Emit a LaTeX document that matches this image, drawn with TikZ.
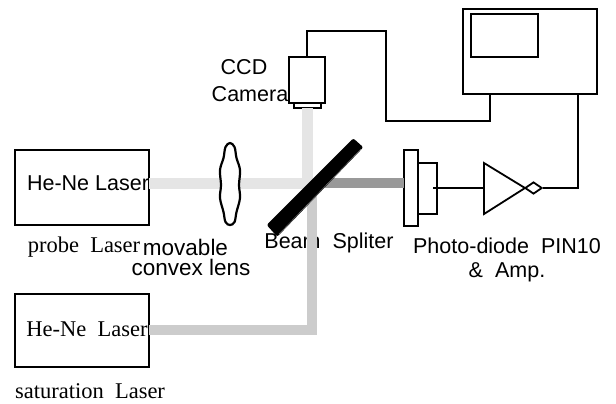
\documentclass[tikz,border=0pt]{standalone}
\usepackage{fontspec}
\setmainfont{Liberation Sans}
\newfontfamily\serifface{Liberation Serif}
\usetikzlibrary{arrows.meta, positioning, shapes, calc}

\begin{document}
\begin{tikzpicture}[
  x=0.025cm, y=-0.025cm,
  % Define styles for different elements
  box/.style={draw, line width=0.5mm, inner sep=0, outer sep=0, fill=white},
  wire/.style={line width=0.45mm},
  probebeam/.style={line width=2.6mm, color=black!10},
  satbeam/.style={line width=2.6mm, color=black!20},
  outbeam/.style={line width=2.6mm, color=black!40},
  sanslabel/.style={font=\fontsize{15.3}{17}\selectfont, inner sep=0, align=center},
  lenslabel/.style={font=\fontsize{16}{18}\selectfont, inner sep=0, align=center},
  seriflabel/.style={font=\fontsize{16}{18}\selectfont\serifface, inner sep=0, align=center}
]
\useasboundingbox (0,0) rectangle (616,403);

% Beam splitter label sits under the saturation beam
\node[sanslabel] (splitlabel) at (329,243) {Beam\ \ Spliter};

% Laser boxes
\node[box, minimum width=3.35cm, minimum height=1.875cm] (probelaser) at (82,187.5) {};
\node[box, minimum width=3.35cm, minimum height=1.825cm] (satlaser) at (82,330.5) {};

% Beams
\coordinate (probecorner) at (307.5,183.5);
\coordinate (satcorner) at (312,330);
\coordinate (satend) at (312,185);
\coordinate (outstart) at (325,183);

\node[box, minimum width=0.35cm, minimum height=1.9cm] (diodeplate) at (411,188) {};
\node[box, minimum width=0.475cm, minimum height=1.275cm, anchor=west] (diodebody) at (diodeplate.east) {};
\node[box, minimum width=0.9cm, minimum height=1.15cm] (camera) at (307,80) {};
\node[box, minimum width=0.675cm, minimum height=0.125cm, anchor=north] (camerafoot) at (camera.south) {};

\draw[probebeam] (probelaser.east |- probecorner) -- (probecorner) -- (camerafoot.south -| probecorner);
\draw[satbeam] (satlaser.east |- satcorner) -- (satcorner) -- (satend);
\draw[outbeam] (outstart) -- (diodeplate.west |- outstart);

% Lens
\draw[line width=0.55mm, fill=white] plot[smooth cycle, tension=0.6] coordinates
  {(230,143) (234.5,147) (236.5,158) (240,170) (239,185) (240,198) (236.5,212) (234.5,222) (230,225)
   (225.5,222) (223.5,212) (220,198) (221,185) (220,170) (223.5,158) (225.5,147)};

% Beam splitter
\fill[rounded corners=0.5mm] (353.3,138.3) -- (363.3,147.3) -- (277.3,236.7) -- (266.7,225) -- cycle;
\draw[line width=0.1mm, black!50] (361,149) -- (279,234);

% Monitor
\node[box, minimum width=3.35cm, minimum height=2.125cm] (monitor) at (530,51.5) {};
\node[box, minimum width=1.675cm, minimum height=1.075cm] (screen) at (504.5,35.5) {};

% Amplifier
\coordinate (ampin) at (484,188);
\draw[wire] (484,163) -- (484,214) -- (525,188) -- cycle;
\node[draw, line width=0.45mm, diamond, aspect=1.4, inner sep=0, minimum width=0.43cm, minimum height=0.3cm] (ampdot) at (533.5,188) {};

% Wiring
\coordinate (camwire) at (386,31);
\coordinate (monwire) at (386,121);
\coordinate (monleft) at (490,94);
\coordinate (monright) at (578,94);
\coordinate (diodewire) at (433,188);
\draw[wire] (camera.north) |- (camwire) -- (monwire) -| (monleft);
\draw[wire] (ampdot.east) -| (monright);
\draw[wire] (diodewire) -- (ampin);

% Labels
\node[sanslabel] (ccdlabel) at (244,67) {CCD};
\node[sanslabel] (camlabel) at (250,94) {Camera};
\node[sanslabel] (probetext) at (88,183) {He-Ne Laser};
\node[seriflabel] (sattext) at (87,329) {He-Ne\ \ Laser};
\node[seriflabel] (probelabel) at (84,247) {probe\ \ Laser};
\node[lenslabel] (movelabel) at (185.5,247) {movable};
\node[lenslabel] (convexlabel) at (191,267) {convex lens};
\node[seriflabel] (satlabel) at (90,391) {saturation\ \ Laser};
\node[sanslabel] (diodelabel) at (507,259.5) {Photo-diode\ \ PIN10\\\&\ \ Amp.};

\end{tikzpicture}
\end{document}
